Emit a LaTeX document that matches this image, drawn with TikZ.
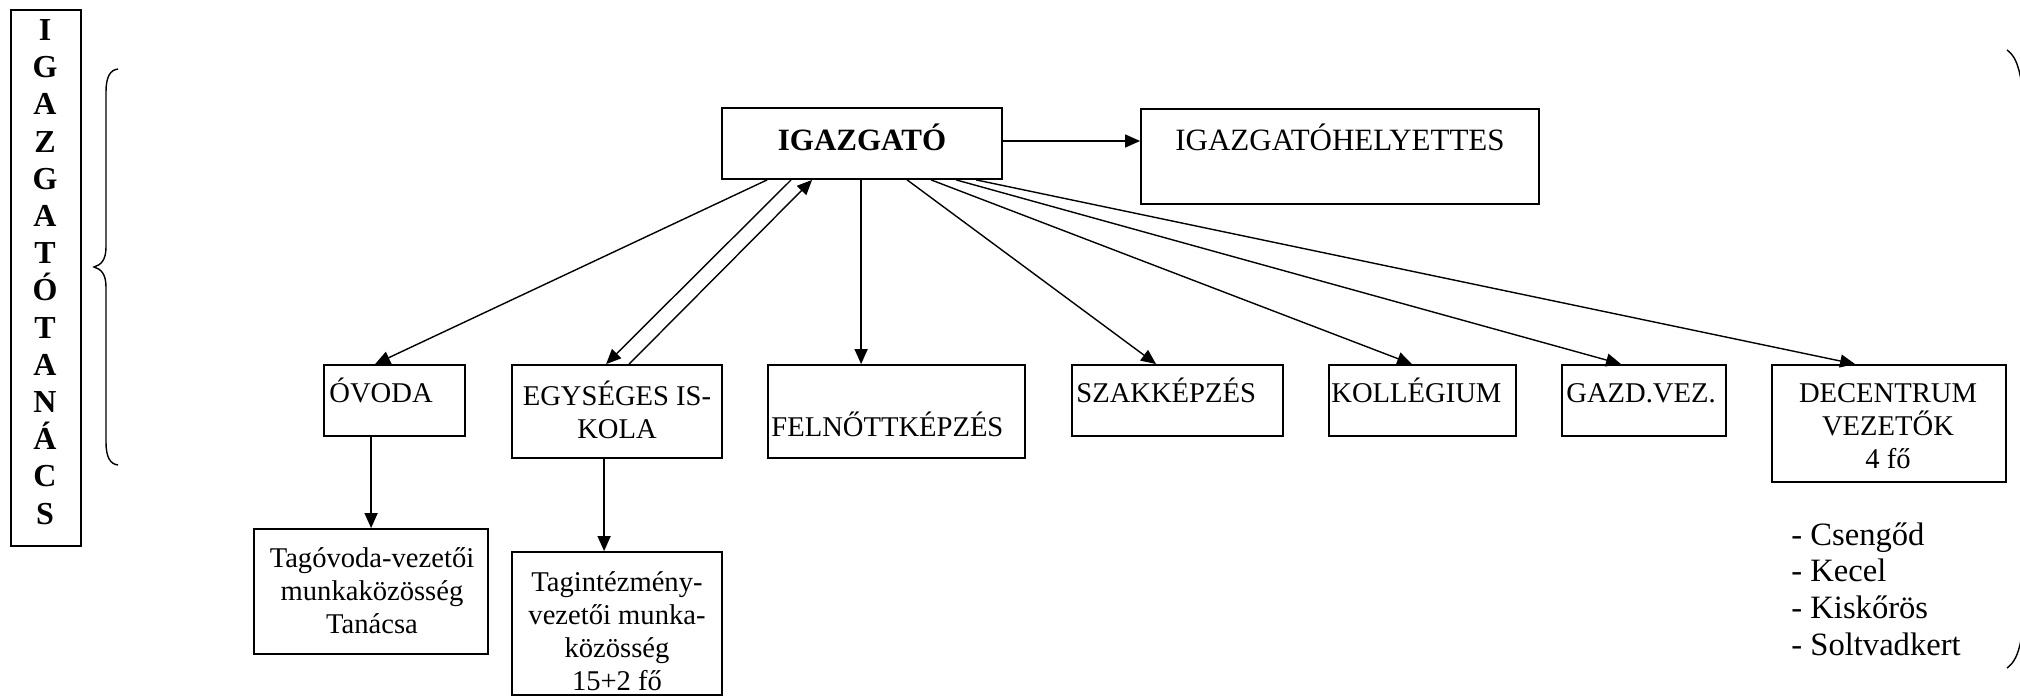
\documentclass[tikz,border=0pt]{standalone}
\usepackage{fontspec}
\setmainfont{Liberation Serif}
\usetikzlibrary{arrows.meta,calc}
\tikzset{
  box/.style={draw, line width=0.9pt, rectangle, inner sep=0pt},
  txt/.style={inner sep=0pt, font=\fontsize{14.3}{16.5}\selectfont},
  arr/.style={line width=0.7pt, -{Triangle[length=7.5pt,width=6.5pt]}},
  ln/.style={line width=0.7pt}
}
\begin{document}
\begin{tikzpicture}[x=0.5pt,y=-0.5pt]
\useasboundingbox (0,0) rectangle (2020,696);
% boxes
\node[box, minimum width=35pt, minimum height=268pt] (council) at (46,278) {};
\node[box, minimum width=140pt, minimum height=35.5pt] (igaz) at (862,143.5) {};
\node[box, minimum width=199pt, minimum height=47.5pt] (hely) at (1340,156.5) {};
\node[box, minimum width=70.5pt, minimum height=35.5pt] (ovoda) at (394.5,400.5) {};
\node[box, minimum width=105pt, minimum height=46.5pt] (egys) at (617,411.5) {};
\node[box, minimum width=128.5pt, minimum height=46.5pt] (feln) at (896.5,411.5) {};
\node[box, minimum width=105.5pt, minimum height=35.5pt] (szak) at (1177.5,400.5) {};
\node[box, minimum width=93.5pt, minimum height=35.5pt] (koll) at (1422.5,400.5) {};
\node[box, minimum width=82pt, minimum height=35.5pt] (gazd) at (1644,400.5) {};
\node[box, minimum width=117pt, minimum height=58.5pt] (dec) at (1889,423.5) {};
\node[box, minimum width=117pt, minimum height=62.5pt] (tagov) at (371,591.5) {};
\node[box, minimum width=105pt, minimum height=71.5pt] (tagint) at (617,623.5) {};
% texts
\node[inner sep=0pt, align=center, font=\bfseries\fontsize{16}{18.6}\selectfont] (councilt) at (45,272)
  {I\\G\\A\\Z\\G\\A\\T\\Ó\\T\\A\\N\\Á\\C\\S};
\node[inner sep=0pt, anchor=base, font=\bfseries\fontsize{15.5}{18}\selectfont] (igazt) at (862,150) {IGAZGATÓ};
\node[inner sep=0pt, anchor=base, font=\fontsize{15.5}{18}\selectfont] (helyt) at (1340,150) {IGAZGATÓHELYETTES};
\node[txt, anchor=base west] (ovodat) at (329,402) {ÓVODA};
\node[txt, align=center] (egyst) at (617,410) {EGYSÉGES IS-\\KOLA};
\node[txt, anchor=base west] (felnt) at (771,436) {FELNŐTTKÉPZÉS};
\node[txt, anchor=base west] (szakt) at (1076,402) {SZAKKÉPZÉS};
\node[txt, anchor=base west] (kollt) at (1331,402) {KOLLÉGIUM};
\node[txt, anchor=base west] (gazdt) at (1566,402) {GAZD.VEZ.};
\node[txt, align=center] (dect) at (1888,426) {DECENTRUM\\VEZETŐK\\4 fő};
\node[txt, align=center] (tagovt) at (372,591) {Tagóvoda-vezetői\\munkaközösség\\Tanácsa};
\node[txt, align=center] (tagintt) at (617,631) {Tagintézmény-\\vezetői munka-\\közösség\\15+2 fő};
\node[inner sep=0pt, anchor=west, align=left, font=\fontsize{16.3}{18.35}\selectfont] (list) at (1791,589)
  {- Csengőd\\- Kecel\\- Kiskőrös\\- Soltvadkert};
% connectors
\coordinate (a1) at ($(igaz.east)+(0,-2.5)$);
\draw[arr] (a1) -- (a1 -| hely.west);
\draw[arr] ($(igaz.south west)+(46,0)$) -- ($(ovoda.north west)+(52,0)$);
\draw[arr] ($(igaz.south west)+(70,0)$) -- ($(egys.north west)+(95,0)$);
\draw[arr] ($(egys.north west)+(118,0)$) -- ($(igaz.south west)+(91,0)$);
\draw[arr] ($(igaz.south west)+(140,0)$) -- ($(feln.north west)+(94,0)$);
\draw[arr] ($(igaz.south west)+(186,0)$) -- ($(szak.north west)+(85,0)$);
\draw[arr] ($(igaz.south west)+(210,0)$) -- ($(koll.north west)+(84,0)$);
\draw[arr] ($(igaz.south west)+(235,0)$) -- ($(gazd.north west)+(60,0)$);
\draw[arr] ($(igaz.south west)+(255,0)$) -- ($(dec.north west)+(84,0)$);
\draw[arr] ($(ovoda.south west)+(48,0)$) -- ($(tagov.north west)+(118,0)$);
\draw[arr] ($(egys.south west)+(93,0)$) -- ($(tagint.north west)+(93,0)$);
% braces
\draw[ln] (118,69) .. controls (110,70) and (106,77) .. (106,92) -- (106,247)
  .. controls (106,260) and (101,265) .. (94,267)
  .. controls (101,269) and (106,274) .. (106,287) -- (106,442)
  .. controls (106,457) and (110,464) .. (118,465);
\draw[ln] (2007,50) .. controls (2014,55) and (2018,63) .. (2021,80);
\draw[ln] (2021,640) .. controls (2018,655) and (2014,663) .. (2007,668);
\end{tikzpicture}
\end{document}
